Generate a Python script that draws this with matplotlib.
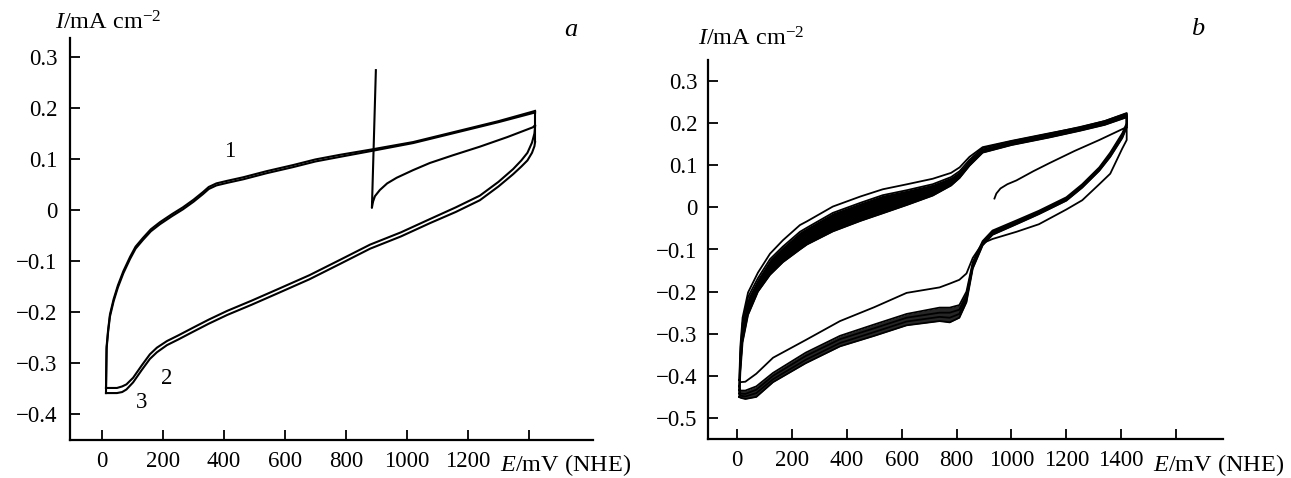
import matplotlib
matplotlib.use("Agg")
import matplotlib.pyplot as plt

plt.rcParams['font.family'] = ['Liberation Serif', 'DejaVu Serif']
plt.rcParams['mathtext.fontset'] = 'custom'
plt.rcParams['mathtext.rm'] = 'Liberation Serif'
plt.rcParams['mathtext.it'] = 'Liberation Serif:italic'

# ---------------- Panel a data ----------------
a_init_E = [898, 885, 888, 895, 911, 935, 966, 1020, 1075, 1150, 1239, 1330, 1413, 1420]
a_init_I = [0.274, 0.004, 0.015, 0.027, 0.039, 0.052, 0.063, 0.078, 0.092, 0.107, 0.124,
            0.143, 0.162, 0.166]

a_anod_E = [13, 15, 20, 26, 38, 52, 70, 92, 110, 134, 160, 190, 230, 265, 300, 331, 350, 375,
            410, 463, 540, 627, 700, 780, 879, 1020, 1184, 1300, 1420]
a_anod2_I = [-0.349, -0.268, -0.235, -0.205, -0.175, -0.148, -0.120, -0.092, -0.072, -0.055,
             -0.038, -0.024, -0.008, 0.005, 0.020, 0.035, 0.045, 0.052, 0.057, 0.064, 0.076,
             0.088, 0.099, 0.108, 0.118, 0.133, 0.157, 0.174, 0.194]
a_anod3_I = [-0.359, -0.272, -0.239, -0.209, -0.179, -0.152, -0.124, -0.096, -0.076, -0.059,
             -0.042, -0.028, -0.012, 0.001, 0.016, 0.031, 0.041, 0.048, 0.053, 0.060, 0.072,
             0.084, 0.095, 0.104, 0.115, 0.131, 0.155, 0.172, 0.191]

a_cath_E = [1420, 1418, 1410, 1395, 1375, 1348, 1300, 1239, 1160, 1075, 980, 879, 780, 680,
            574, 490, 410, 350, 298, 250, 213, 180, 157, 130, 102, 80, 66, 49, 30, 16, 13]
a_cath2_I = [0.163, 0.150, 0.132, 0.112, 0.097, 0.080, 0.055, 0.028, 0.005, -0.018, -0.044,
             -0.068, -0.098, -0.128, -0.156, -0.178, -0.198, -0.215, -0.231, -0.246, -0.257,
             -0.270, -0.283, -0.305, -0.329, -0.342, -0.346, -0.349, -0.349, -0.349, -0.349]
a_cath3_I = [0.133, 0.125, 0.112, 0.097, 0.085, 0.070, 0.046, 0.019, -0.004, -0.026, -0.052,
             -0.076, -0.106, -0.136, -0.164, -0.186, -0.206, -0.223, -0.239, -0.254, -0.265,
             -0.279, -0.292, -0.314, -0.338, -0.352, -0.357, -0.359, -0.359, -0.359, -0.359]

a_curve_labels = ['1', '2', '3']
a_label_E = [420, 213, 131]
a_label_I = [0.114, -0.330, -0.377]

a_xticks = [0, 200, 400, 600, 800, 1000, 1200, 1400]
a_xticklabels = ['0', '200', '400', '600', '800', '1000', '1200', '']
a_yticks = [0.3, 0.2, 0.1, 0, -0.1, -0.2, -0.3, -0.4]
a_yticklabels = ['0.3', '0.2', '0.1', '0', '\u22120.1', '\u22120.2', '\u22120.3', '\u22120.4']

# ---------------- Panel b data ----------------
b_init_E = [938, 945, 960, 985, 1018, 1080, 1138, 1230, 1320, 1411, 1420]
b_init_I = [0.021, 0.033, 0.045, 0.055, 0.064, 0.086, 0.105, 0.134, 0.160, 0.188, 0.190]

b_anod_E = [8, 12, 20, 40, 76, 120, 167, 229, 255, 349, 450, 531, 620, 713, 780, 811, 847,
            895, 1000, 1138, 1250, 1340, 1420]
b_anod1_I = [-0.410, -0.330, -0.262, -0.202, -0.155, -0.110, -0.078, -0.042, -0.033, 0.002,
             0.026, 0.043, 0.055, 0.068, 0.082, 0.095, 0.120, 0.143, 0.158, 0.176, 0.190,
             0.205, 0.224]
b_anod2_I = [-0.425, -0.345, -0.275, -0.213, -0.168, -0.123, -0.093, -0.058, -0.048, -0.013,
             0.011, 0.029, 0.041, 0.055, 0.072, 0.086, 0.113, 0.141, 0.157, 0.175, 0.191,
             0.205, 0.223]
b_anod3_I = [-0.434, -0.360, -0.290, -0.227, -0.179, -0.135, -0.105, -0.072, -0.061, -0.027,
             -0.003, 0.015, 0.029, 0.046, 0.065, 0.080, 0.108, 0.137, 0.154, 0.172, 0.188,
             0.202, 0.220]
b_anod4_I = [-0.442, -0.375, -0.305, -0.241, -0.190, -0.148, -0.118, -0.086, -0.075, -0.042,
             -0.018, 0.000, 0.017, 0.037, 0.058, 0.075, 0.103, 0.133, 0.151, 0.169, 0.185,
             0.199, 0.217]
b_anod5_I = [-0.450, -0.390, -0.320, -0.255, -0.200, -0.160, -0.130, -0.100, -0.088, -0.057,
             -0.032, -0.014, 0.006, 0.028, 0.052, 0.070, 0.099, 0.130, 0.148, 0.166, 0.182,
             0.196, 0.214]

b_cath_E = [1420, 1404, 1360, 1320, 1258, 1200, 1100, 1018, 931, 895, 859, 836, 810, 775, 738,
            618, 500, 375, 250, 131, 70, 30, 12, 8]
b_cath1_I = [0.160, 0.140, 0.080, 0.055, 0.017, -0.005, -0.040, -0.058, -0.075, -0.085,
             -0.120, -0.157, -0.172, -0.181, -0.190, -0.203, -0.237, -0.270, -0.315, -0.357,
             -0.395, -0.414, -0.415, -0.410]
b_cath2_I = [0.200, 0.176, 0.130, 0.095, 0.055, 0.024, -0.008, -0.031, -0.055, -0.080,
             -0.130, -0.200, -0.232, -0.238, -0.238, -0.253, -0.278, -0.305, -0.345, -0.393,
             -0.425, -0.435, -0.435, -0.425]
b_cath3_I = [0.197, 0.173, 0.127, 0.092, 0.052, 0.021, -0.011, -0.034, -0.058, -0.083,
             -0.135, -0.208, -0.243, -0.250, -0.250, -0.262, -0.287, -0.313, -0.353, -0.400,
             -0.433, -0.443, -0.442, -0.434]
b_cath4_I = [0.194, 0.170, 0.124, 0.090, 0.050, 0.019, -0.013, -0.037, -0.061, -0.086,
             -0.140, -0.216, -0.253, -0.262, -0.260, -0.271, -0.296, -0.322, -0.362, -0.408,
             -0.441, -0.449, -0.447, -0.442]
b_cath5_I = [0.190, 0.165, 0.120, 0.087, 0.047, 0.016, -0.016, -0.040, -0.065, -0.090,
             -0.145, -0.225, -0.262, -0.273, -0.270, -0.280, -0.305, -0.330, -0.370, -0.415,
             -0.450, -0.455, -0.452, -0.450]

b_xticks = [0, 200, 400, 600, 800, 1000, 1200, 1400, 1600]
b_xticklabels = ['0', '200', '400', '600', '800', '1000', '1200', '1400', '']
b_yticks = [0.3, 0.2, 0.1, 0, -0.1, -0.2, -0.3, -0.4, -0.5]
b_yticklabels = ['0.3', '0.2', '0.1', '0', '\u22120.1', '\u22120.2', '\u22120.3', '\u22120.4', '\u22120.5']

W, H = 1291, 478
fig = plt.figure(figsize=(W / 100, H / 100), dpi=100)

def px_axes(x0, y_top, x1, y_bot):
    return fig.add_axes([x0 / W, 1 - y_bot / H, (x1 - x0) / W, (y_bot - y_top) / H])

FS = 16.5
FSL = 17.5

def style(ax, xticks, xtl, yticks, ytl, ypad):
    for s in ('top', 'right'):
        ax.spines[s].set_visible(False)
    for s in ('left', 'bottom'):
        ax.spines[s].set_linewidth(1.6)
    ax.set_xticks(xticks)
    ax.set_xticklabels(xtl)
    ax.set_yticks(yticks)
    ax.set_yticklabels(ytl)
    ax.tick_params(direction='in', length=7, width=1.3, labelsize=FS, pad=8)
    ax.tick_params(axis='y', pad=ypad)

# ---- panel a ----
axa = px_axes(70, 38, 593, 440)
lw = 1.5
axa.plot(a_init_E, a_init_I, color='black', lw=lw)
axa.plot(a_anod_E, a_anod2_I, color='black', lw=lw)
axa.plot(a_anod_E, a_anod3_I, color='black', lw=lw)
axa.plot(a_cath_E, a_cath2_I, color='black', lw=lw)
axa.plot(a_cath_E, a_cath3_I, color='black', lw=lw)
axa.plot([a_anod_E[-1], a_cath_E[0]], [a_anod2_I[-1], a_cath3_I[0]], color='black', lw=lw)
axa.plot([a_anod_E[0], a_cath_E[-1]], [a_anod3_I[0], a_cath3_I[-1]], color='black', lw=lw)
for t, e, i in zip(a_curve_labels, a_label_E, a_label_I):
    axa.text(e, i, t, fontsize=FS, ha='center', va='center')
axa.set_xlim(-105, 1610)
axa.set_ylim(-0.451, 0.337)
style(axa, a_xticks, a_xticklabels, a_yticks, a_yticklabels, 9)

# ---- panel b ----
axb = px_axes(708, 60, 1223, 439)
lwb = 1.3
axb.fill_between(b_anod_E, b_anod5_I, b_anod2_I, color='black', lw=0)
axb.fill_between(b_cath_E, b_cath5_I, b_cath2_I, color='black', lw=0, alpha=0.85)
axb.plot(b_init_E, b_init_I, color='black', lw=lwb)
for anod, cath in [(b_anod1_I, b_cath1_I), (b_anod2_I, b_cath2_I), (b_anod3_I, b_cath3_I),
                   (b_anod4_I, b_cath4_I), (b_anod5_I, b_cath5_I)]:
    axb.plot(b_anod_E + b_cath_E, anod + cath, color='black', lw=lwb)
axb.set_xlim(-106, 1771)
axb.set_ylim(-0.55, 0.35)
style(axb, b_xticks, b_xticklabels, b_yticks, b_yticklabels, 7.5)

# ---- texts ----
def ftext(x, y, s, **kw):
    fig.text(x / W, 1 - y / H, s, **kw)

ftext(55, 23, r'$I$/mA cm$^{-2}$', fontsize=FSL, ha='left', va='center')
ftext(698, 39, r'$I$/mA cm$^{-2}$', fontsize=FSL, ha='left', va='center')
ftext(500, 465, r'$E$/mV (NHE)', fontsize=FSL, ha='left', va='center')
ftext(1153, 465, r'$E$/mV (NHE)', fontsize=FSL, ha='left', va='center')
ftext(571, 30, 'a', fontsize=19, style='italic', ha='center', va='center')
ftext(1198, 29, 'b', fontsize=19, style='italic', ha='center', va='center')

fig.savefig('out.png', dpi=100)
